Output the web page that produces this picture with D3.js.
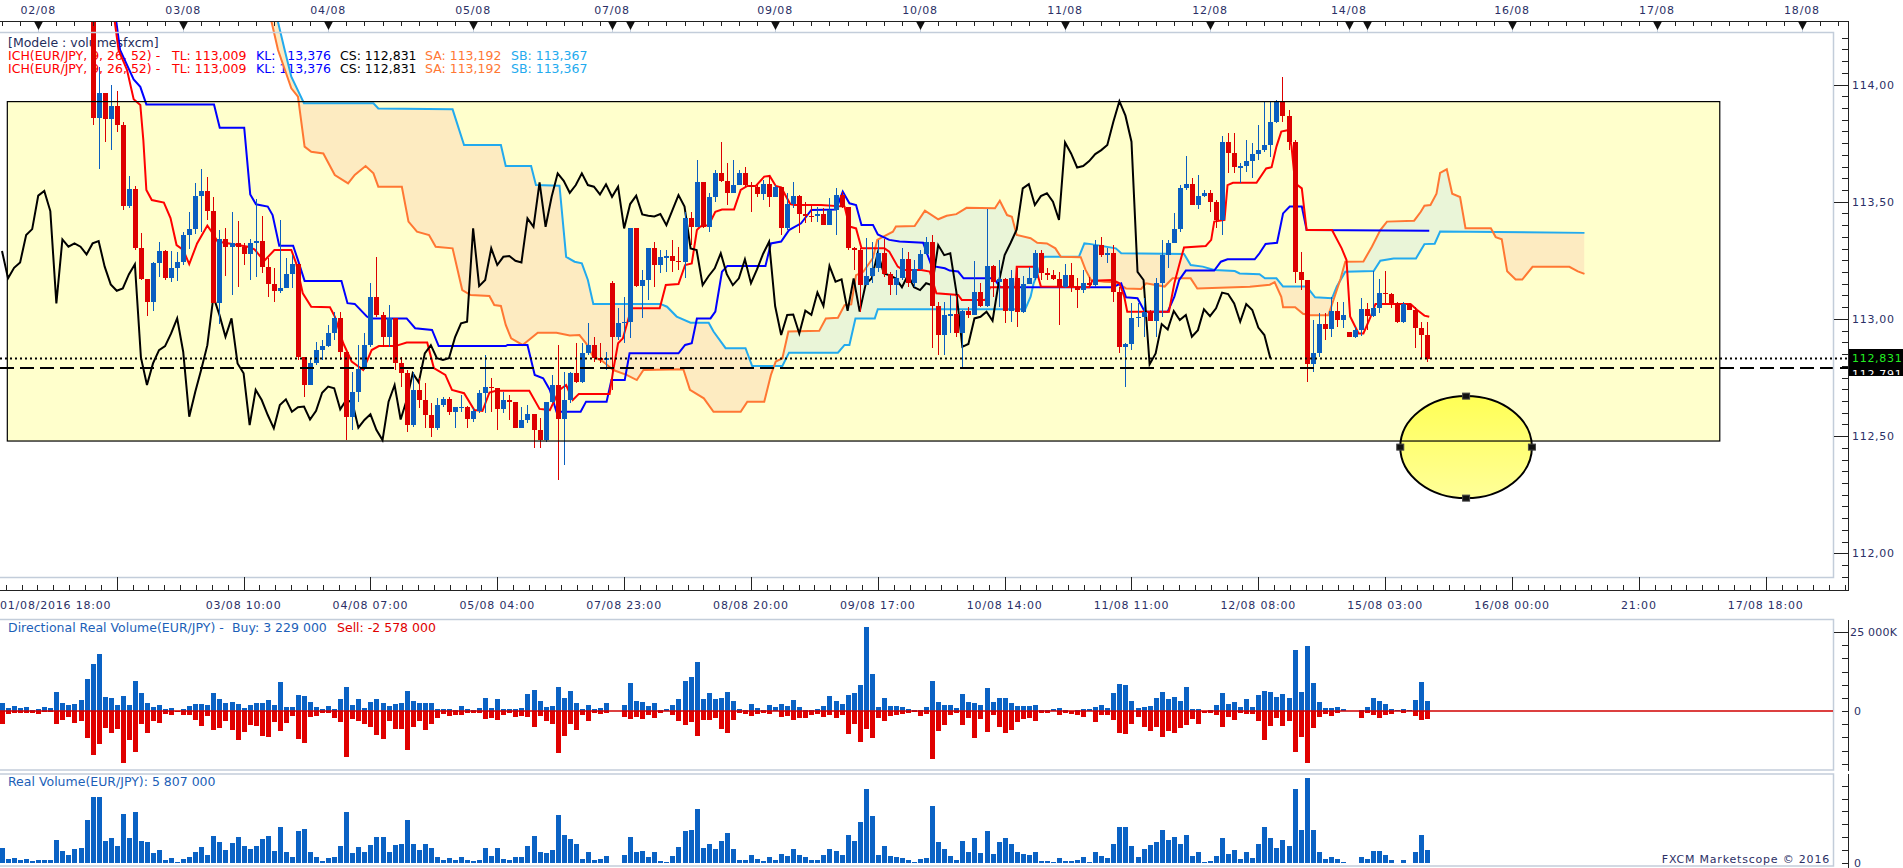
<!DOCTYPE html>
<html>
<head>
<meta charset="utf-8">
<script src="https://cdn.jsdelivr.net/npm/d3@7"></script>
<style>
  body { margin: 0; background: #fff; }
  svg { display: block; }
  text { font-family: "DejaVu Sans", Verdana, sans-serif; font-size: 11px; }
  text.legend { font-size: 12.5px; }
</style>
</head>
<body>
<div id="chart"></div>
<script>
// EUR/JPY hourly, first candle index 0 = 01/08/2016 18:00
const candleStart = 15; // candles 0..14 lie above the visible price range
const closes = [113.858,113.962,113.853,113.908,113.827,113.483,113.553,113.304,113.170,113.073,
113.237,113.290,113.173,113.218,113.241,113.358,113.383,113.526,113.546,113.460,
113.066,113.339,113.308,113.322,113.308,113.275,113.322,113.332,113.223,113.147,
113.120,113.130,113.190,113.233,112.836,112.718,112.810,112.867,112.884,112.938,
113.002,112.860,112.583,112.689,112.785,112.888,113.095,113.017,112.924,113.002,
112.810,112.768,112.547,112.697,112.654,112.590,112.533,112.633,112.657,112.604,
112.623,112.626,112.571,112.608,112.685,112.711,112.704,112.614,112.654,112.644,
112.536,112.569,112.593,112.526,112.483,112.647,112.718,112.571,112.654,112.768,
112.729,112.853,112.888,112.832,112.825,112.832,112.921,112.981,112.988,113.386,
113.140,113.166,113.301,113.230,113.265,113.268,113.248,113.241,113.429,113.393,
113.582,113.393,113.521,113.621,113.589,113.538,113.571,113.621,113.571,113.564,
113.531,113.574,113.521,113.564,113.386,113.490,113.526,113.446,113.440,113.437,
113.447,113.400,113.464,113.528,113.479,113.301,113.294,113.144,113.183,113.216,
113.280,113.191,113.144,113.173,113.254,113.152,113.211,113.277,113.329,113.055,
112.931,113.017,113.019,112.938,113.035,113.017,113.113,113.055,113.226,113.159,
113.169,113.035,113.173,113.031,113.149,113.173,113.282,113.194,113.186,113.172,
113.135,113.187,113.135,113.123,113.152,113.144,113.315,113.272,113.280,113.116,
112.881,112.893,113.002,113.009,113.031,112.992,113.152,113.272,113.325,113.382,
113.557,113.575,113.486,113.524,113.536,113.500,113.422,113.753,113.706,113.646,
113.652,113.673,113.703,113.720,113.742,113.841,113.929,113.867,113.756,113.201,
113.166,112.806,112.853,112.978,112.955,113.034,112.995,113.017,112.924,112.952,
113.041,113.012,113.045,113.112,113.106,113.066,112.988,113.063,113.038,112.963,
112.931,112.831];
const highs = [114.650,114.076,113.962,113.998,113.972,113.841,113.610,113.567,113.368,113.170,
113.243,113.330,113.294,113.290,113.287,113.372,113.454,113.578,113.639,113.607,
113.521,113.379,113.386,113.457,113.418,113.322,113.339,113.510,113.439,113.258,
113.216,113.422,113.258,113.272,113.233,112.839,112.832,112.903,112.910,112.974,
113.031,113.031,112.860,112.775,112.888,112.941,113.152,113.265,113.031,113.059,
113.002,112.839,112.782,112.775,112.746,112.725,112.640,112.661,112.668,112.668,
112.623,112.675,112.630,112.618,112.697,112.846,112.746,112.704,112.689,112.675,
112.647,112.625,112.633,112.593,112.576,112.647,112.761,112.888,112.775,112.775,
112.896,112.896,112.981,112.924,112.896,112.860,113.162,113.045,113.095,113.386,
113.386,113.208,113.301,113.329,113.294,113.294,113.336,113.308,113.457,113.457,
113.678,113.585,113.536,113.635,113.756,113.664,113.678,113.635,113.649,113.585,
113.571,113.592,113.614,113.571,113.564,113.536,113.585,113.528,113.500,113.486,
113.479,113.472,113.514,113.557,113.543,113.479,113.308,113.301,113.344,113.329,
113.336,113.339,113.201,113.208,113.301,113.287,113.251,113.294,113.351,113.358,
113.073,113.070,113.102,113.102,113.038,113.052,113.247,113.152,113.467,113.230,
113.251,113.173,113.208,113.216,113.183,113.223,113.294,113.294,113.216,113.208,
113.201,113.233,113.237,113.173,113.208,113.180,113.336,113.351,113.301,113.315,
113.137,112.896,113.066,113.066,113.088,113.038,113.173,113.336,113.336,113.450,
113.571,113.695,113.600,113.614,113.550,113.550,113.507,113.780,113.794,113.794,
113.664,113.763,113.752,113.827,113.927,113.927,113.934,114.033,113.891,113.763,
113.287,113.166,112.995,113.024,113.024,113.095,113.073,113.073,112.945,112.967,
113.088,113.066,113.206,113.169,113.206,113.112,113.073,113.073,113.069,113.052,
112.988,112.988];
const lows = [113.827,113.638,113.756,113.720,113.799,113.464,113.472,113.294,113.166,113.014,
113.034,113.180,113.166,113.156,113.162,113.230,113.298,113.361,113.372,113.422,
113.066,112.977,113.183,113.102,113.137,113.230,113.166,113.180,113.194,113.095,
113.073,113.109,113.130,113.130,112.825,112.668,112.721,112.803,112.825,112.881,
112.910,112.825,112.483,112.526,112.647,112.782,112.881,113.009,112.881,112.881,
112.782,112.711,112.519,112.540,112.618,112.533,112.497,112.526,112.626,112.590,
112.533,112.604,112.533,112.561,112.597,112.600,112.604,112.526,112.597,112.569,
112.533,112.536,112.554,112.448,112.448,112.476,112.640,112.313,112.377,112.640,
112.725,112.725,112.846,112.817,112.810,112.782,112.697,112.910,112.896,112.917,
113.137,113.002,113.081,113.137,113.194,113.201,113.201,113.208,113.173,113.315,
113.393,113.386,113.372,113.500,113.585,113.486,113.536,113.571,113.564,113.457,
113.521,113.507,113.479,113.521,113.358,113.379,113.472,113.368,113.407,113.415,
113.415,113.400,113.400,113.358,113.472,113.294,113.208,113.031,113.144,113.152,
113.201,113.180,113.102,113.102,113.166,113.137,113.137,113.208,113.272,112.874,
112.846,112.846,112.938,112.924,112.796,113.002,113.017,113.052,113.052,113.095,
113.052,112.981,112.988,112.967,113.024,113.152,113.166,113.166,113.166,113.166,
112.974,113.130,113.116,113.045,113.109,113.137,113.137,113.265,113.237,113.073,
112.853,112.708,112.867,112.967,112.921,112.992,112.921,113.010,113.216,113.322,
113.372,113.550,113.486,113.467,113.521,113.457,113.386,113.358,113.624,113.624,
113.581,113.628,113.602,113.678,113.713,113.692,113.834,113.841,113.720,113.152,
113.123,112.729,112.775,112.839,112.910,112.924,112.964,112.960,112.924,112.917,
112.927,112.952,113.009,113.024,113.066,113.045,112.981,112.981,113.038,112.874,
112.832,112.817];
// opens differ from the previous close only at these candles [index, open]
const gapOpens = [[15, 114.60], [101, 113.152], [223, 112.945]];

// directional real volume, thousands, index 0..236
const buyVol = [2430,840,1580,840,1160,320,630,1160,950,6010,
2430,1900,2220,3480,10130,14880,18040,4330,4110,1900,
4750,1900,9500,5700,2530,1160,1900,630,950,100,
530,1580,2220,2220,1900,5700,3800,2530,2850,2220,
950,1900,2530,2530,3480,1900,9180,1270,1270,5060,
4750,2850,1270,630,1580,630,3800,7600,1900,3800,
950,2850,3800,2530,1580,2220,2530,6330,3170,2530,
2530,2530,630,630,630,320,1580,630,320,950,
4110,950,3800,630,630,630,950,5380,6650,3170,
1270,1580,7600,4110,6330,2530,630,1900,630,950,
2530,0,0,1900,8860,3170,2850,1580,2530,320,
630,1900,3800,9500,10760,15510,3800,5700,3800,4110,
6010,3170,630,320,2220,950,320,1900,1270,2220,
1580,3480,1270,320,320,630,1580,4750,3170,2220,
5060,5700,8230,26590,11710,1270,4110,1580,1580,1270,
630,320,320,1270,9500,2850,1900,1900,950,5380,
2850,2530,1900,7280,2850,4110,4110,2530,1580,1580,
1580,1900,320,320,630,950,320,0,320,630,
630,1270,1900,950,5700,8550,8230,3170,950,1270,
1580,4110,6010,3800,4430,3170,7600,630,630,0,
320,1900,5700,2220,2850,1270,3800,1270,5060,6330,
6010,4430,5380,4110,19310,6010,20570,8860,2850,950,
950,1270,630,0,0,320,1270,4110,3170,2220,
630,320,630,320,3480,9180,3229];
const sellVol = [4110,840,530,530,530,530,950,420,320,4110,
2850,1790,3800,3170,8550,13930,10440,5380,6960,5700,
16460,9180,12870,4110,6860,3170,3800,840,1160,420,
1160,1160,2850,4750,1580,6010,5380,3170,6010,9180,
6650,4430,4750,7910,8230,3480,6330,3800,1580,8860,
10130,1900,1580,530,530,2220,3480,14560,2530,3170,
4110,5060,7600,8860,3170,5700,5700,12340,5060,3170,
6010,4110,2220,950,1580,1270,1270,630,530,530,
2530,2220,2850,1270,630,1900,1580,1900,5060,1580,
3170,4110,13290,7910,4110,6010,1270,3170,630,950,
630,0,0,1900,2530,1900,2530,1270,2220,630,
0,1270,3170,4430,3480,7910,2850,2850,2220,5700,
6960,2850,630,950,1580,950,630,950,0,1900,
1580,2850,2220,2220,1270,950,1900,1270,2220,1270,
7280,4110,9810,5700,8550,2220,3170,1580,1270,950,
630,320,1580,950,15190,6330,4430,1270,630,4430,
2220,8550,2530,6650,1270,5060,6960,6010,3480,2530,
2220,3170,630,630,0,1270,630,950,1270,1900,
0,3480,1270,1270,2850,6960,7280,4110,1900,5060,
6330,5060,8230,6330,6960,5380,4430,2530,4110,630,
630,1270,5060,1900,2850,630,950,950,3170,9180,
4750,2220,4750,3170,12980,8230,16460,5380,1900,950,
1580,630,0,0,0,2220,630,1270,2220,1270,
950,0,630,0,1580,2850,2578];

// Ichimoku lines: [candle index, price]
const tenkan = [[0,114.70],[18.5,114.30],[19.3,114.147],[20.7,114.062],[21.8,113.937],[22.9,113.913],[23.4,113.763],[23.9,113.55],
[24.8,113.507],[26.8,113.496],[27.9,113.43],[28.9,113.315],[30,113.294],[31,113.234],[32.3,113.322],[34,113.398],[34.7,113.372],
[35.7,113.33],[40.7,113.308],[41.8,113.297],[43.4,113.247],[45.1,113.294],[47.9,113.294],[48.7,113.237],[49.8,113.109],
[51.2,113.052],[54.3,113.05],[55.1,113.01],[56.5,112.896],[57.9,112.818],[59.8,112.782],[61.2,112.867],[62.4,112.884],
[65.1,112.884],[67,112.899],[70.4,112.899],[71.5,112.79],[73.4,112.761],[74.5,112.697],[76.5,112.683],[78.2,112.611],
[79.55,112.607],[80.7,112.686],[81.8,112.693],[87.3,112.693],[89,112.616],[90.7,112.611],[92.3,112.697],[93.4,112.718],
[94.5,112.654],[95.5,112.68],[100.6,112.68],[101.2,112.782],[102,112.896],[102.8,112.917],[104.2,113.045],[108.9,113.045],
[109.9,113.145],[112,113.149],[113.1,113.23],[114.2,113.237],[115.05,113.379],[115.6,113.394],[117,113.40],[118.1,113.457],
[119.2,113.467],[121.2,113.467],[122.3,113.55],[123.4,113.567],[124.8,113.567],[126.2,113.607],[127.1,113.61],[128.1,113.567],
[129,113.561],[130.5,113.49],[131.2,113.486],[135.6,113.486],[139.5,113.479],[140.3,113.394],[141.4,113.386],[142.3,113.301],
[146.1,113.301],[146.9,113.287],[148.3,113.223],[149.2,113.209],[152.2,113.209],[153.6,113.202],[154.2,113.152],[154.7,113.109],
[158.3,113.102],[158.9,113.081],[162.8,113.081],[163.6,113.135],[167.8,113.135],[168,113.223],[171.1,113.223],[172,113.138],
[180,113.135],[180.5,113.163],[183.9,113.166],[185,113.152],[185.8,113.095],[186.3,113.031],[193.2,113.031],[194.1,113.152],
[194.9,113.23],[195.7,113.305],[199.3,113.311],[200.2,113.337],[200.7,113.415],[202.4,113.422],[202.9,113.571],[203.8,113.581],
[207.7,113.581],[209.3,113.642],[210.2,113.647],[211,113.735],[211.8,113.799],[213,113.806],[213.5,113.735],[214.1,113.578],
[215.2,113.557],[216,113.379],[220.2,113.379],[221.8,113.301],[222.6,113.251],[223.2,113.01],[224.6,112.938],[225.4,112.938],
[226.6,113.01],[227.4,113.064],[233.2,113.064],[234.3,113.038],[235.5,113.014],[236.3,113.009]];
const kijun = [[0,114.55],[18.5,114.35],[19.55,114.147],[21.8,114.022],[22.9,113.99],[23.9,113.915],[35.1,113.915],[36.05,113.816],
[40.1,113.816],[41.1,113.531],[42.05,113.489],[44,113.479],[44.8,113.443],[45.9,113.312],[48.2,113.312],[49,113.251],
[50.1,113.162],[56.2,113.162],[57.2,113.067],[58.4,113.064],[60.4,113.01],[61,113.002],[67,113.002],[68.4,112.96],
[71.2,112.953],[72.3,112.884],[83.4,112.884],[83.7,112.889],[87,112.889],[88.2,112.761],[89.6,112.747],[90.7,112.697],
[91.8,112.604],[95.8,112.604],[96.7,112.647],[100.1,112.647],[100.9,112.739],[103.1,112.739],[103.9,112.853],[112,112.853],
[113.1,112.889],[114.2,112.896],[115.05,113.002],[117.3,113.002],[118.1,113.031],[119.2,113.201],[120.1,113.226],[126.4,113.226],
[127.3,113.322],[129,113.33],[130.3,113.379],[132.3,113.408],[134,113.465],[138.1,113.467],[139.2,113.543],[140.3,113.493],
[141.4,113.486],[142.3,113.401],[144.2,113.401],[145,113.36],[146.9,113.337],[148.6,113.33],[152.5,113.325],[153.9,113.226],
[156.1,113.216],[156.9,113.206],[158.3,113.202],[159.2,113.173],[164.2,113.173],[165.3,113.135],[183.9,113.135],[185.3,113.152],
[186.1,113.092],[188,113.088],[189.2,113.031],[193,113.031],[194.1,113.095],[194.9,113.166],[196,113.206],[200.7,113.206],
[201.8,113.244],[202.9,113.254],[207.4,113.254],[208.2,113.28],[209.2,113.32],[211.1,113.325],[212.1,113.45],[213.2,113.479],
[215.2,113.479],[216,113.379],[236.3,113.376]];
const senkouA = [[43,114.45],[45.7,114.147],[47.9,113.984],[49,113.948],[50.1,113.735],[51.2,113.713],[53.2,113.706],[55.1,113.614],
[57.3,113.578],[58.4,113.614],[60.2,113.652],[61.5,113.621],[62.3,113.564],[66.2,113.564],[67.3,113.415],[68.7,113.372],
[70.7,113.358],[71.8,113.308],[74.6,113.301],[76.2,113.123],[77.6,113.102],[80.7,113.098],[81.5,113.059],[82.6,113.055],
[83.4,112.974],[84.3,112.917],[86.2,112.889],[88.7,112.941],[91.8,112.941],[94,112.929],[95.6,112.931],[96.7,112.896],
[97.8,112.842],[99.5,112.818],[101.2,112.782],[103.4,112.761],[105.1,112.739],[106.2,112.782],[112.8,112.785],[113.9,112.697],
[116.2,112.661],[117.8,112.604],[122.3,112.604],[123.4,112.647],[126.2,112.647],[127.3,112.761],[128.1,112.818],[129.2,112.832],
[130.2,112.946],[135.3,112.949],[136.4,113.002],[138.4,113.005],[139.5,113.059],[140.6,113.062],[141.4,113.187],[142.6,113.201],
[144.2,113.26],[144.9,113.337],[147.5,113.372],[148,113.394],[151.1,113.396],[152.8,113.462],[155,113.425],[156.4,113.44],
[158,113.447],[159.7,113.474],[164.4,113.472],[165.2,113.504],[166.4,113.443],[167.2,113.436],[168,113.358],[170.3,113.344],
[171.4,113.325],[173,113.322],[174.4,113.301],[175.3,113.265],[178.6,113.263],[179.4,113.209],[180.3,113.166],[182.5,113.159],
[184.4,113.156],[186.1,113.13],[188.6,113.128],[189.4,113.152],[192.5,113.138],[193.8,113.173],[196.8,113.173],[197.9,113.13],
[206.6,113.137],[209.9,113.146],[210.7,113.157],[211.8,113.094],[212.1,113.05],[214.1,113.05],[215.4,113.022],[216.6,113.016],
[219.6,113.016],[220.5,113.085],[221.6,113.17],[222.4,113.244],[225.4,113.245],[226.8,113.308],[228.2,113.379],[229.3,113.415],
[233.8,113.419],[234.9,113.457],[235.5,113.483],[236.5,113.486],[237.5,113.534],[238.1,113.623],[239.2,113.638],[240.1,113.534],
[241.4,113.52],[242.3,113.387],[246.5,113.387],[247.3,113.349],[248.3,113.34],[249.2,113.203],[250.6,113.168],[251.7,113.168],
[253.4,113.222],[259.5,113.222],[260.9,113.203],[262,113.192]];
const senkouB = [[44,114.45],[46.8,114.147],[47.9,114.033],[50,113.92],[61.5,113.92],[62.3,113.898],[74.6,113.894],[76.5,113.742],
[82.6,113.742],[83.4,113.652],[87.6,113.652],[88.4,113.571],[92.3,113.568],[93.4,113.265],[94.8,113.244],[96,113.237],
[97,113.166],[97.9,113.064],[109,113.064],[110.1,113.052],[111.7,113.01],[114,112.984],[117,112.984],[117.8,112.946],
[119.8,112.875],[123.1,112.875],[124.2,112.799],[129.2,112.799],[130.3,112.856],[138.4,112.856],[139.5,112.889],[140.3,112.889],
[141.3,113.002],[144.5,113.002],[145,113.041],[169.4,113.041],[170.3,113.095],[170.8,113.152],[172.5,113.265],[178.3,113.265],
[179.2,113.322],[180.3,113.319],[184.4,113.301],[185.3,113.28],[195.7,113.277],[196.8,113.23],[198.8,113.223],[200.7,113.209],
[204.1,113.204],[204.9,113.194],[208.2,113.191],[209.1,113.173],[211,113.173],[212.1,113.138],[216,113.138],[217.4,113.092],
[220.2,113.088],[221,113.138],[222.4,113.201],[227.1,113.204],[228.2,113.248],[230.4,113.258],[234.1,113.258],[235.5,113.319],
[237.2,113.321],[238.1,113.373],[262,113.367]];
const chikouShift = 26;

// annotations
const dashedLevel = 112.791;
const boxRange = { i0: 0.88, i1: 284.4, p0: 112.479, p1: 113.927 };
const ellipseSpec = { i: 242.4, p: 112.453, ri: 10.9, rp: 0.2176 };

// axes
const topDayLabels = ["02/08","03/08","04/08","05/08","07/08","09/08","10/08","11/08","12/08","14/08","16/08","17/08","18/08"];
const topDayIdx = [6,30,54,78,101,128,152,176,200,223,250,274,298];
const extraDayIdx = [104,226];
const sessionStarts = [[0,18],[101,21],[223,21]]; // [index, hour of day]
const bottomLabels = ["01/08/2016 18:00","03/08 10:00","04/08 07:00","05/08 04:00","07/08 23:00","08/08 20:00","09/08 17:00",
  "10/08 14:00","11/08 11:00","12/08 08:00","15/08 03:00","16/08 00:00","21:00","17/08 18:00"];
const bottomIdx = [0,40,61,82,103,124,145,166,187,208,229,250,271,292];
const priceTicks = [112, 112.5, 113, 113.5, 114];

const W = 1903, H = 868;
const AX = 1848, FR = 1833;
const navy = "#2b2f66";
const upCol = "#0a5fc0", dnCol = "#dd0000";

const x = d3.scaleLinear().domain([0, 300]).range([2, 1814]);
const y = d3.scaleLinear().domain([112, 114]).range([553.3, 84.5]);
const yDir = d3.scaleLinear().domain([0, 25000]).range([711, 632]);
const yReal = d3.scaleLinear().domain([0, 38600]).range([863.3, 774]);

const svg = d3.select("#chart").append("svg").attr("width", W).attr("height", H);
svg.append("rect").attr("width", W).attr("height", H).attr("fill", "#fff");
const defs = svg.append("defs");
defs.append("clipPath").attr("id", "mainClip").append("rect")
  .attr("x", 0).attr("y", 22).attr("width", FR).attr("height", 555);

const candles = closes.map((c, k) => {
  const i = k + candleStart;
  const g = gapOpens.find(d => d[0] === i);
  const o = g ? g[1] : closes[k - 1];
  return { i, o, c, h: Math.max(highs[k], o, c), l: Math.min(lows[k], o, c) };
});

const fmt2 = v => d3.format(".2f")(v).replace(".", ",");
const fmt3 = v => d3.format(".3f")(v).replace(".", ",");
const fmtSp = v => d3.format(",")(v).replace(/,/g, " ");

// ---------- legends (drawn under the chart) ----------
svg.append("text").attr("class", "legend").attr("x", 8).attr("y", 47).attr("fill", "#1f2d5c").text("[Modele : volumesfxcm]");
const lastA = senkouA[senkouA.length - 1][1], lastB = senkouB[senkouB.length - 1][1];
const ichParts = [
  [8, "#ff0000", "ICH(EUR/JPY, 9, 26, 52) -"],
  [172, "#ff0000", "TL: " + fmt3(tenkan[tenkan.length - 1][1])],
  [256, "#0000ff", "KL: " + fmt3(kijun[kijun.length - 1][1])],
  [340, "#000000", "CS: " + fmt3(closes[closes.length - 1])],
  [425, "#ff7733", "SA: " + fmt3(lastA)],
  [511, "#22aaee", "SB: " + fmt3(lastB)]
];
[59.5, 72.5].forEach(by => {
  ichParts.forEach(p => svg.append("text").attr("class", "legend").attr("x", p[0]).attr("y", by).attr("fill", p[1]).text(p[2]));
});

// ---------- main panel ----------
const main = svg.append("g").attr("clip-path", "url(#mainClip)");

// yellow box fill
main.append("rect")
  .attr("x", x(boxRange.i0)).attr("y", y(boxRange.p1))
  .attr("width", x(boxRange.i1) - x(boxRange.i0)).attr("height", y(boxRange.p0) - y(boxRange.p1))
  .attr("fill", "#ffffcc");

// cloud fill with clip paths
const areaAbove = d3.area().x(d => x(d[0])).y0(0).y1(d => y(d[1]));
const areaBelow = d3.area().x(d => x(d[0])).y0(H).y1(d => y(d[1]));
defs.append("clipPath").attr("id", "belowB").append("path").attr("d", areaBelow(senkouB));
defs.append("clipPath").attr("id", "aboveB").append("path").attr("d", areaAbove(senkouB));
main.append("g").attr("clip-path", "url(#belowB)")
  .append("path").attr("d", areaAbove(senkouA)).attr("fill", "#fdebc1");
main.append("g").attr("clip-path", "url(#aboveB)")
  .append("path").attr("d", areaBelow(senkouA)).attr("fill", "#eaf5d8");

const line = d3.line().x(d => x(d[0])).y(d => y(d[1]));
main.append("path").attr("d", line(senkouB)).attr("fill", "none").attr("stroke", "#22aaee").attr("stroke-width", 2);
main.append("path").attr("d", line(senkouA)).attr("fill", "none").attr("stroke", "#ff7733").attr("stroke-width", 2);
main.append("path").attr("d", line(kijun)).attr("fill", "none").attr("stroke", "#0000ff").attr("stroke-width", 2);
main.append("path").attr("d", line(tenkan)).attr("fill", "none").attr("stroke", "#ff0000").attr("stroke-width", 2);

const chikou = candles.filter(d => d.i >= chikouShift).map(d => [d.i - chikouShift, d.c]);
main.append("path").attr("d", line(chikou)).attr("fill", "none").attr("stroke", "#000").attr("stroke-width", 2);

// candles
const cg = main.append("g").attr("shape-rendering", "crispEdges");
cg.selectAll("line.wick").data(candles).join("line")
  .attr("x1", d => Math.round(x(d.i)) + 0.5).attr("x2", d => Math.round(x(d.i)) + 0.5)
  .attr("y1", d => y(d.h)).attr("y2", d => y(d.l))
  .attr("stroke", d => d.c >= d.o ? upCol : dnCol).attr("stroke-width", 1);
cg.selectAll("rect.body").data(candles).join("rect")
  .attr("x", d => Math.round(x(d.i)) - 2).attr("width", 5)
  .attr("y", d => y(Math.max(d.o, d.c)))
  .attr("height", d => Math.max(1.5, Math.abs(y(d.o) - y(d.c))))
  .attr("fill", d => d.c >= d.o ? upCol : dnCol);

// ellipse annotation
const grad = defs.append("linearGradient").attr("id", "ellGrad").attr("x1", 0).attr("y1", 0).attr("x2", 0).attr("y2", 1);
grad.append("stop").attr("offset", "0%").attr("stop-color", "#ffff55");
grad.append("stop").attr("offset", "100%").attr("stop-color", "#ffff99");
const ex = x(ellipseSpec.i), ey = y(ellipseSpec.p);
const erx = x(ellipseSpec.i + ellipseSpec.ri) - ex, ery = y(ellipseSpec.p - ellipseSpec.rp) - ey;
main.append("ellipse").attr("cx", ex).attr("cy", ey).attr("rx", erx).attr("ry", ery)
  .attr("fill", "url(#ellGrad)").attr("stroke", "#000").attr("stroke-width", 2);

// box outline on top
main.append("rect")
  .attr("x", x(boxRange.i0)).attr("y", y(boxRange.p1))
  .attr("width", x(boxRange.i1) - x(boxRange.i0)).attr("height", y(boxRange.p0) - y(boxRange.p1))
  .attr("fill", "none").attr("stroke", "#000").attr("stroke-width", 1.2);

[[ex, ey - ery], [ex, ey + ery], [ex - erx, ey], [ex + erx, ey]].forEach(p => {
  main.append("rect").attr("x", p[0] - 3.5).attr("y", p[1] - 3).attr("width", 7).attr("height", 6)
    .attr("fill", "#111").attr("stroke", "#444");
});

// horizontal price lines
const lastClose = closes[closes.length - 1];
svg.append("line").attr("x1", 0).attr("x2", AX).attr("y1", y(lastClose)).attr("y2", y(lastClose))
  .attr("stroke", "#000").attr("stroke-width", 2).attr("stroke-dasharray", "2,3");
svg.append("line").attr("x1", 0).attr("x2", AX).attr("y1", y(dashedLevel)).attr("y2", y(dashedLevel))
  .attr("stroke", "#000").attr("stroke-width", 2).attr("stroke-dasharray", "14,6");

// frame of the main panel
const frameCol = "#c3cdda";
svg.append("path").attr("d", `M0,32.5H${FR}.5V577.5H0`).attr("fill", "none").attr("stroke", frameCol).attr("stroke-width", 1.5);

// ---------- top time axis ----------
const ta = svg.append("g").attr("shape-rendering", "crispEdges");
ta.append("line").attr("x1", 0).attr("x2", AX).attr("y1", 21.5).attr("y2", 21.5).attr("stroke", "#222");
function hourOf(i) {
  let s = sessionStarts[0];
  sessionStarts.forEach(d => { if (i >= d[0]) s = d; });
  return (s[1] + i - s[0]) % 24;
}
const minorTop = d3.range(0, 306).filter(i => hourOf(i) % 3 === 0);
ta.selectAll("line.mt").data(minorTop).join("line")
  .attr("x1", d => Math.round(x(d)) + 0.5).attr("x2", d => Math.round(x(d)) + 0.5)
  .attr("y1", 21).attr("y2", 26).attr("stroke", "#222");
const allDays = topDayIdx.concat(extraDayIdx);
ta.selectAll("line.dg").data(allDays).join("line")
  .attr("x1", d => Math.round(x(d)) + 0.5).attr("x2", d => Math.round(x(d)) + 0.5)
  .attr("y1", 28).attr("y2", 33).attr("stroke", frameCol);
svg.selectAll("path.tri").data(allDays).join("path")
  .attr("d", d => { const cx = Math.round(x(d)) + 0.5; return `M${cx - 4.5},21.5L${cx + 4.5},21.5L${cx},30Z`; })
  .attr("fill", "#111");
svg.selectAll("text.td").data(topDayLabels).join("text")
  .attr("x", (d, k) => x(topDayIdx[k])).attr("y", 14).attr("text-anchor", "middle")
  .attr("fill", navy).attr("letter-spacing", "0.8px").text(d => d);

// ---------- bottom time axis ----------
const ba = svg.append("g").attr("shape-rendering", "crispEdges");
ba.append("line").attr("x1", 0).attr("x2", AX).attr("y1", 590.5).attr("y2", 590.5).attr("stroke", "#222");
const majorB = [19].concat(bottomIdx.slice(1));
ba.selectAll("line.mb").data(majorB).join("line")
  .attr("x1", d => Math.round(x(d)) + 0.5).attr("x2", d => Math.round(x(d)) + 0.5)
  .attr("y1", 577).attr("y2", 590).attr("stroke", "#222");
const minorB = [];
for (let m = 19 - 21; m < 300; m += 21) for (let s = 1; s < 8; s++) minorB.push(m + s * 21 / 8);
ba.selectAll("line.nb").data(minorB.filter(d => d > 0 && x(d) < AX)).join("line")
  .attr("x1", d => Math.round(x(d)) + 0.5).attr("x2", d => Math.round(x(d)) + 0.5)
  .attr("y1", 585).attr("y2", 590).attr("stroke", "#222");
svg.selectAll("text.bl").data(bottomLabels).join("text")
  .attr("x", (d, k) => k === 0 ? 0 : x(bottomIdx[k])).attr("y", 609)
  .attr("text-anchor", (d, k) => k === 0 ? "start" : "middle")
  .attr("fill", navy).attr("letter-spacing", "0.8px").text(d => d);

// ---------- right price axis ----------
const ra = svg.append("g").attr("shape-rendering", "crispEdges");
ra.append("line").attr("x1", AX + 0.5).attr("x2", AX + 0.5).attr("y1", 21).attr("y2", 591).attr("stroke", "#222");
const minorP = d3.range(111.9, 114.25, 0.05).filter(v => y(v) > 24 && y(v) < 589);
ra.selectAll("line.mp").data(minorP).join("line")
  .attr("x1", AX - 6).attr("x2", AX).attr("y1", d => Math.round(y(d)) + 0.5).attr("y2", d => Math.round(y(d)) + 0.5)
  .attr("stroke", "#222");
ra.selectAll("line.Mp").data(priceTicks).join("line")
  .attr("x1", FR + 1).attr("x2", AX).attr("y1", d => Math.round(y(d)) + 0.5).attr("y2", d => Math.round(y(d)) + 0.5)
  .attr("stroke", "#222");
svg.selectAll("text.pl").data(priceTicks).join("text")
  .attr("x", AX + 4).attr("y", d => y(d) + 4).attr("fill", navy).attr("letter-spacing", "0.7px").text(fmt2);

// current price labels
const pl = svg.append("g");
pl.append("rect").attr("x", AX + 1).attr("y", 349).attr("width", W - AX - 1).attr("height", 27).attr("fill", "#000");
defs.append("clipPath").attr("id", "plClip").append("rect").attr("x", AX + 1).attr("y", 349).attr("width", W - AX).attr("height", 26);
pl.append("text").attr("clip-path", "url(#plClip)").attr("x", AX + 4).attr("y", 378).attr("fill", "#fff")
  .attr("letter-spacing", "0.7px").text(fmt3(dashedLevel));
pl.append("rect").attr("x", AX + 1).attr("y", 350).attr("width", W - AX - 1).attr("height", 13).attr("fill", "#000");
pl.append("text").attr("x", AX + 4).attr("y", 362).attr("fill", "#22ee22")
  .attr("letter-spacing", "0.7px").text(fmt3(lastClose));

// ---------- volume panels ----------
const vol = d3.range(buyVol.length).map(i => ({ i, b: buyVol[i], s: sellVol[i] }));
[[619.5, 770], [774, 866]].forEach(r => {
  svg.append("path").attr("d", `M0,${r[0]}H${FR}.5V${r[1]}H0`).attr("fill", "none")
    .attr("stroke", frameCol).attr("stroke-width", 1.5);
});

const vg = svg.append("g").attr("shape-rendering", "crispEdges");
vg.selectAll("rect.buy").data(vol.filter(d => d.b > 0)).join("rect")
  .attr("x", d => Math.round(x(d.i)) - 2).attr("width", 5)
  .attr("y", d => yDir(d.b)).attr("height", d => yDir(0) - yDir(d.b)).attr("fill", "#0a62c4");
vg.selectAll("rect.sell").data(vol.filter(d => d.s > 0)).join("rect")
  .attr("x", d => Math.round(x(d.i)) - 2).attr("width", 5)
  .attr("y", yDir(0)).attr("height", d => yDir(0) - yDir(d.s)).attr("fill", "#e00000");
svg.append("line").attr("x1", 0).attr("x2", FR).attr("y1", yDir(0)).attr("y2", yDir(0))
  .attr("stroke", "#d00000").attr("stroke-width", 1.3);

vg.selectAll("rect.real").data(vol.filter(d => d.b + d.s > 0)).join("rect")
  .attr("x", d => Math.round(x(d.i)) - 2).attr("width", 5)
  .attr("y", d => yReal(d.b + d.s)).attr("height", d => yReal(0) - yReal(d.b + d.s)).attr("fill", "#0a62c4");

// volume legends
const lastV = vol[vol.length - 1];
svg.append("text").attr("class", "legend").attr("x", 8).attr("y", 632).attr("fill", "#1c5fb8").text("Directional Real Volume(EUR/JPY) -");
svg.append("text").attr("class", "legend").attr("x", 232).attr("y", 632).attr("fill", "#1c5fb8").text("Buy: " + fmtSp(lastV.b * 1000));
svg.append("text").attr("class", "legend").attr("x", 337).attr("y", 632).attr("fill", "#e00000").text("Sell: -" + fmtSp(lastV.s * 1000));
svg.append("text").attr("class", "legend").attr("x", 8).attr("y", 786).attr("fill", "#1c5fb8")
  .text("Real Volume(EUR/JPY): " + fmtSp((lastV.b + lastV.s) * 1000));

// volume right axes
const va = svg.append("g").attr("shape-rendering", "crispEdges");
va.append("line").attr("x1", AX + 0.5).attr("x2", AX + 0.5).attr("y1", 620).attr("y2", 771).attr("stroke", "#222");
va.append("line").attr("x1", AX + 0.5).attr("x2", AX + 0.5).attr("y1", 774).attr("y2", 868).attr("stroke", "#222");
const dirTicks = d3.range(-16 * 25000 / 6, 29000, 25000 / 6).filter(v => yDir(v) > 621 && yDir(v) < 769);
va.selectAll("line.dt").data(dirTicks).join("line")
  .attr("x1", AX - 6).attr("x2", AX).attr("y1", d => Math.round(yDir(d)) + 0.5).attr("y2", d => Math.round(yDir(d)) + 0.5)
  .attr("stroke", "#222");
va.append("line").attr("x1", FR + 1).attr("x2", AX).attr("y1", Math.round(yDir(25000)) + 0.5).attr("y2", Math.round(yDir(25000)) + 0.5).attr("stroke", "#222");
const realTicks = d3.range(0, 40000, 5600).filter(v => yReal(v) > 775);
va.selectAll("line.rt").data(realTicks).join("line")
  .attr("x1", AX - 6).attr("x2", AX).attr("y1", d => Math.round(yReal(d)) + 0.5).attr("y2", d => Math.round(yReal(d)) + 0.5)
  .attr("stroke", "#222");
svg.append("text").attr("x", AX + 2).attr("y", yDir(25000) + 4).attr("fill", navy).attr("letter-spacing", "0.2px").text("25 000K");
svg.append("text").attr("x", AX + 6).attr("y", yDir(0) + 4).attr("fill", navy).text("0");
svg.append("text").attr("x", AX + 6).attr("y", yReal(0) + 4).attr("fill", navy).text("0");

svg.append("text").attr("x", 1830).attr("y", 863).attr("text-anchor", "end").attr("fill", navy)
  .attr("font-size", "12px").attr("letter-spacing", "0.8px").text("FXCM Marketscope © 2016");
</script>
</body>
</html>
